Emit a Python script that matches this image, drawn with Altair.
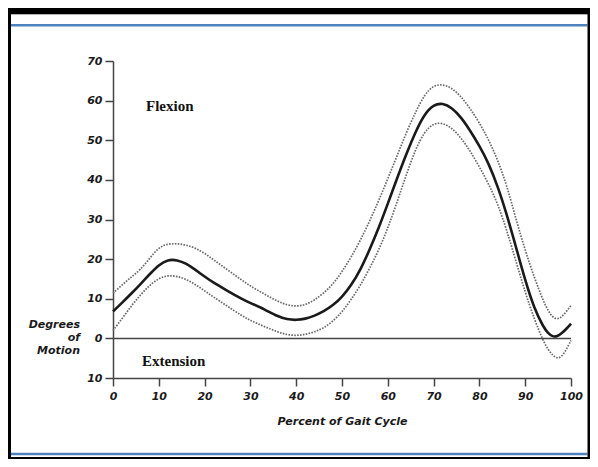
import altair as alt
import pandas as pd

# ---- data ----
pct = [0, 2, 4, 6, 8, 10, 12, 14, 16, 18,
       20, 22, 25, 28, 30, 33, 36, 38, 40, 42,
       44, 46, 48, 50, 52, 54, 56, 58, 60, 62,
       64, 66, 68, 70, 72, 74, 76, 78, 80, 82,
       84, 86, 88, 90, 92, 94, 95, 96, 97, 98,
       99, 100]
mean = [6.8, 9.0, 11.3, 13.7, 16.2, 18.6, 19.9, 19.8, 18.9, 17.3,
        15.6, 14.0, 12.0, 10.0, 8.9, 7.4, 5.5, 4.8, 4.6, 4.9,
        5.7, 6.8, 8.3, 10.4, 13.4, 17.2, 22.3, 27.8, 34.0, 40.3,
        46.4, 52.0, 56.6, 59.0, 59.4, 58.2, 55.8, 52.4, 48.6, 44.2,
        38.4, 31.2, 23.0, 14.6, 7.4, 2.8, 1.3, 0.4, 0.5, 1.3,
        2.4, 3.7]
upper = [11.4, 13.5, 15.5, 17.3, 20.2, 23.0, 23.9, 23.9, 23.6, 22.8,
         21.5, 19.8, 17.3, 14.8, 13.2, 11.2, 9.3, 8.4, 8.1, 8.4,
         9.7, 11.4, 13.6, 16.8, 20.5, 24.7, 29.5, 34.7, 40.3, 46.0,
         51.8, 57.0, 61.5, 63.9, 64.1, 63.2, 61.0, 58.0, 54.4, 50.2,
         45.0, 38.6, 30.0, 22.2, 15.3, 9.3, 7.0, 5.3, 4.8, 5.4,
         6.8, 8.3]
lower = [2.0, 5.0, 8.2, 11.0, 13.4, 15.2, 15.9, 15.7, 14.9, 13.6,
         12.0, 10.4, 8.1, 5.8, 4.5, 3.0, 1.6, 0.9, 0.7, 1.0,
         1.6, 2.6, 4.3, 6.6, 9.8, 13.3, 17.6, 22.2, 27.8, 34.3,
         41.2, 47.6, 52.2, 54.3, 54.4, 53.1, 50.6, 47.3, 43.3, 39.0,
         34.0, 27.2, 19.4, 11.6, 4.8, -0.8, -2.8, -4.3, -5.1, -4.6,
         -2.8, -0.5]

x_ticks = [0, 10, 20, 30, 40, 50, 60, 70, 80, 90, 100]
y_ticks = [-10, 0, 10, 20, 30, 40, 50, 60, 70]
x_title = "Percent of Gait Cycle"
y_title = "Degrees\nof\nMotion"
notes = ["Flexion", "Extension"]

rows = []
for name, vals in (("mean", mean), ("upper", upper), ("lower", lower)):
    for p, v in zip(pct, vals):
        rows.append({"pct": p, "deg": v, "series": name})
df = pd.DataFrame(rows)

LABEL_FONT = "DejaVu Sans"

xscale = alt.Scale(domain=[0, 100], nice=False, zero=False)
yscale = alt.Scale(domain=[-10, 70], nice=False, zero=False)

x_axis = alt.Axis(values=x_ticks, tickCount=len(x_ticks) + 5, title=x_title, grid=False,
                  labelOverlap=False, labelFlush=False,
                  labelFont=LABEL_FONT, labelFontSize=11, labelFontStyle="italic",
                  labelFontWeight="bold", labelColor="#1a1a1a", labelPadding=4,
                  tickSize=8, tickWidth=1.5, tickColor="#444",
                  domainColor="#444", domainWidth=1.5,
                  titleFont=LABEL_FONT, titleFontSize=11, titleFontStyle="italic",
                  titleFontWeight="bold", titleColor="#1a1a1a", titlePadding=14)
y_axis = alt.Axis(values=y_ticks, tickCount=len(y_ticks) + 5, title=None, grid=False,
                  labelOverlap=False, labelFlush=False,
                  labelExpr="abs(datum.value) + ''",
                  labelFont=LABEL_FONT, labelFontSize=11, labelFontStyle="italic",
                  labelFontWeight="bold", labelColor="#1a1a1a", labelPadding=3,
                  tickSize=8, tickWidth=1.5, tickColor="#444",
                  domainColor="#444", domainWidth=1.5)

zero_df = pd.DataFrame({"pct": [0], "pct2": [100], "deg": [0]})
zero_line = alt.Chart(zero_df).mark_rule(color="#444", strokeWidth=1.5).encode(
    x=alt.X("pct:Q", scale=xscale, axis=x_axis),
    x2="pct2:Q",
    y=alt.Y("deg:Q", scale=yscale, axis=y_axis),
)

base = alt.Chart(df)

band_lines = base.transform_filter(alt.datum.series != "mean").mark_line(
    color="#6a6a6a", strokeWidth=1.7, strokeDash=[1.6, 1.3], interpolate="basis"
).encode(
    x=alt.X("pct:Q", scale=xscale, axis=x_axis),
    y=alt.Y("deg:Q", scale=yscale, axis=y_axis),
    detail="series:N",
)

mean_line = base.transform_filter(alt.datum.series == "mean").mark_line(
    color="#1a1a1a", strokeWidth=2.6, interpolate="basis"
).encode(
    x=alt.X("pct:Q", scale=xscale, axis=x_axis),
    y=alt.Y("deg:Q", scale=yscale, axis=y_axis),
)

one = alt.Data(values=[{}])

flex = alt.Chart(one).mark_text(
    text=notes[0], font="Liberation Serif", fontSize=15, fontWeight="bold",
    align="left", baseline="alphabetic", color="#111"
).encode(x=alt.value(33), y=alt.value(50))

ext = alt.Chart(one).mark_text(
    text=notes[1], font="Liberation Serif", fontSize=15, fontWeight="bold",
    align="left", baseline="alphabetic", color="#111"
).encode(x=alt.value(29), y=alt.value(305))

ytitle = alt.Chart(one).mark_text(
    text=y_title.split("\n"), font=LABEL_FONT, fontSize=11, fontStyle="italic",
    fontWeight="bold", align="right", baseline="top", lineHeight=13, color="#1a1a1a"
).encode(x=alt.value(-33), y=alt.value(258))

def frame_rect(x1, x2, y1, y2, color):
    return alt.Chart(one).mark_rect(color=color, clip=False).encode(
        x=alt.value(x1), x2=alt.value(x2), y=alt.value(y1), y2=alt.value(y2)
    )

frame = [
    frame_rect(-105, -102, -53, 398, "#000000"),   # left black band
    frame_rect(-105, 477, -53, -47, "#000000"),    # top black band
    frame_rect(-102, 477, -47, -46.3, "#9a9a9a"),  # thin grey under top band
    frame_rect(-102, 474.5, -37, -34.5, "#4f81bd"),  # top blue line
    frame_rect(-102, 474.5, 391.7, 394.3, "#4f81bd"),  # bottom blue line
    frame_rect(-105, 477, 396, 398, "#000000"),    # bottom black band
    frame_rect(474.5, 477, -53, 398, "#000000"),   # right black line
]

chart = alt.layer(
    zero_line, *frame, band_lines, mean_line, flex, ext, ytitle
).properties(
    width=458, height=317,
    padding={"left": 105, "top": 53, "right": 19, "bottom": 81},
    autosize=alt.AutoSizeParams(type="none"),
    background="white",
).configure_view(stroke=None).configure_axis(labelOverlap=False)

chart.save("out.html", embed_options={"renderer": "svg", "actions": False})
